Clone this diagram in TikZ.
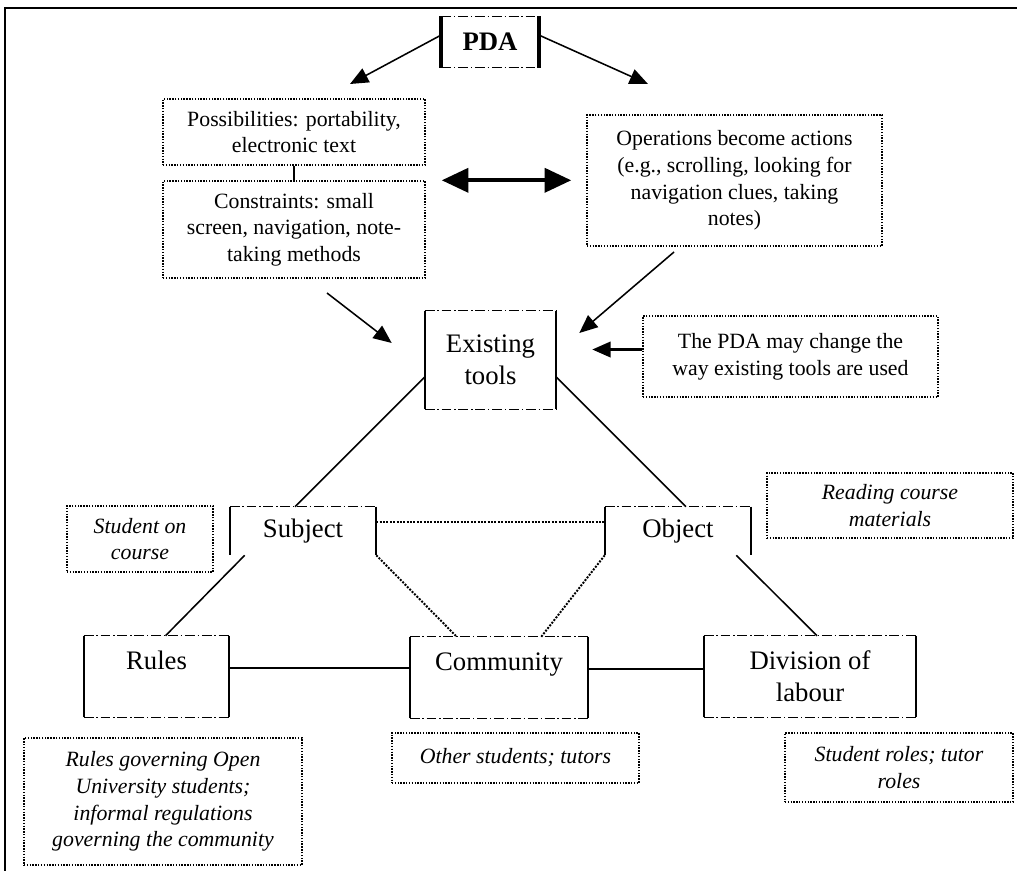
\documentclass[tikz,border=0pt]{standalone}
\usepackage{fontspec}
\setmainfont{Liberation Serif}
\usetikzlibrary{calc,arrows.meta}

\newcommand{\notesize}{\fontsize{15.5}{19}\selectfont}
\newcommand{\mainsize}{\fontsize{19}{23}\selectfont}

\begin{document}
\begin{tikzpicture}[x=0.025cm,y=-0.025cm,
		every node/.style={align=center, inner sep=0pt, font=\notesize},
		note/.style={draw, densely dotted, line width=1pt},
		inote/.style={note, font=\notesize\itshape},
		mainbox/.style={font=\mainsize},
		arr/.style={line width=1.1pt, -{Triangle[length=13pt,width=11pt]}},
		dblarr/.style={line width=3pt, {Triangle[length=19pt,width=17pt]}-{Triangle[length=19pt,width=17pt]}},
		edge/.style={line width=1.1pt},
		dotedge/.style={line width=1.4pt, densely dotted},
		brokenline/.style={line width=0.7pt, dash pattern=on 7pt off 2pt on 1pt off 2pt}
	]
		\def\u{0.025cm}
		
		\useasboundingbox (0,0) rectangle (1017,871);
		\draw[line width=1.4pt] (1017,8) -- (5,8) -- (5,871);
		
		% top part
		\node[font=\mainsize\bfseries, minimum width=97*\u, minimum height=51*\u] (pda) at (490,42) {PDA};
		\node[note, minimum width=262*\u, minimum height=66*\u] (poss) at (294,132) {Possibilities: portability,\\electronic text};
		\node[note, minimum width=262*\u, minimum height=97*\u] (cons) at (294,229.5) {Constraints: small\\screen, navigation, note-\\taking methods};
		\node[note, minimum width=295*\u, minimum height=131*\u] (ops) at (734.5,180.5) {Operations become actions\\(e.g., scrolling, looking for\\navigation clues, taking\\notes)};
		\node[note, minimum width=295*\u, minimum height=81*\u] (change) at (790.5,356.5) {The PDA may change the\\way existing tools are used};
		
		% activity triangle
		\node[mainbox, minimum width=131*\u, minimum height=98*\u] (tools) at (490.5,360) {Existing\\tools};
		\node[mainbox, minimum width=146*\u, minimum height=48*\u] (subject) at (303,531) {Subject};
		\node[mainbox, minimum width=146*\u, minimum height=48*\u] (object) at (678,531) {Object};
		\node[mainbox, minimum width=145*\u, minimum height=81*\u] (rules) at (156.5,676.5) {Rules\\\mbox{}};
		\node[mainbox, minimum width=178*\u, minimum height=81*\u] (community) at (499,677.5) {Community\\\mbox{}};
		\node[mainbox, minimum width=212*\u, minimum height=81*\u] (division) at (810,676.5) {Division of\\labour};
		
		% notes
		\node[inote, minimum width=146*\u, minimum height=66*\u] (student) at (140,539) {Student on\\course};
		\node[inote, minimum width=246*\u, minimum height=65*\u] (reading) at (890,505.5) {Reading course\\materials};
		\node[inote, minimum width=278*\u, minimum height=127*\u] (rulesnote) at (163,801.5) {Rules governing Open\\University students;\\informal regulations\\governing the community};
		\node[inote, minimum width=247*\u, minimum height=50*\u] (othernote) at (515.5,758) {Other students; tutors};
		\node[inote, minimum width=228*\u, minimum height=69*\u] (rolesnote) at (899,767.5) {Student roles; tutor\\roles};
		
		% box sides
		\draw[line width=2.6pt] (pda.north west) -- (pda.south west) (pda.north east) -- (pda.south east);
		\draw[brokenline] (pda.north west) -- (pda.north east) (pda.south west) -- (pda.south east);
		\foreach \n in {tools,subject,object,rules,community,division}
			\draw[line width=1.2pt] (\n.north west) -- (\n.south west) (\n.north east) -- (\n.south east);
		\foreach \n in {tools,subject,object,rules,community,division}
			\draw[brokenline] (\n.north west) -- (\n.north east);
		\foreach \n in {tools,rules,community,division}
			\draw[brokenline] (\n.south west) -- (\n.south east);
		
		\coordinate (possTip) at (350,84);
		\coordinate (opsTip) at (648,84);
		\coordinate (consTail) at (327,293);
		\coordinate (opsTail) at (674,252);
		
		\draw[arr] ($(pda.west)+(0,-7)$) -- (possTip);
		\draw[arr] ($(pda.east)+(0,-7)$) -- (opsTip);
		\draw[edge] (poss.south) -- (cons.north);
		\draw[dblarr] ($(cons.north east)+(16,0)$) -- ($(cons.north east -| ops.west)+(-15,0)$);
		\draw[arr] (consTail) -- ($(tools.west)+(-33,-17)$);
		\draw[arr] (opsTail) -- ($(tools.east)+(23,-27)$);
		\draw[arr, line width=1.6pt] ($(change.west)+(0,-7)$) -- ++(-50,0);
		
		\draw[edge] ($(tools.west)+(0,17)$) -- ($(subject.north)+(-8,0)$);
		\draw[edge] ($(tools.east)+(0,17)$) -- ($(object.north)+(8,0)$);
		\draw[dotedge] ($(subject.east)+(0,-9)$) -- ($(object.west)+(0,-9)$);
		\draw[edge] ($(subject.south west)+(15,0)$) -- ($(rules.north)+(9,0)$);
		\draw[dotedge] (subject.south east) -- ($(community.north west)+(47,0)$);
		\draw[dotedge] (object.south west) -- ($(community.north east)+(-47,0)$);
		\draw[edge] ($(object.south east)+(-15,0)$) -- ($(division.north)+(7,0)$);
		\draw[line width=1.4pt] ($(rules.east)+(0,-9)$) -- ($(rules.east -| community.west)+(0,-9)$);
		\draw[line width=1.4pt] ($(community.east)+(0,-9)$) -- ($(community.east -| division.west)+(0,-9)$);
	\end{tikzpicture}
\end{document}
